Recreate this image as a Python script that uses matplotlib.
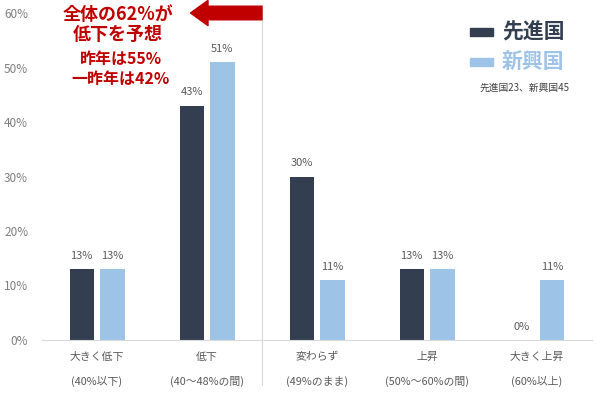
import matplotlib
matplotlib.use("Agg")
import matplotlib.pyplot as plt
import numpy as np

plt.rcParams['font.family'] = ['Noto Sans CJK JP', 'DejaVu Sans']

categories = ["大きく低下\n(40%以下)", "低下\n(40〜48%の間)", "変わらず\n(49%のまま)",
              "上昇\n(50%〜60%の間)", "大きく上昇\n(60%以上)"]
advanced = [13, 43, 30, 13, 0]
emerging = [13, 51, 11, 13, 11]
series_names = ["先進国", "新興国"]
yticks = [0, 10, 20, 30, 40, 50, 60]

c_dark = "#333F50"
c_light = "#9DC3E6"
c_red = "#C00000"
c_gray = "#595959"

fig = plt.figure(figsize=(6, 3.98), dpi=100)
ax = fig.add_axes([42/600, 1-340/398, 550/600, 327/398])
x = np.arange(len(categories))
w = 0.22
off = 0.14
b1 = ax.bar(x - off, advanced, w, color=c_dark)
b2 = ax.bar(x + off, emerging, w, color=c_light)
for bars, vals in ((b1, advanced), (b2, emerging)):
    for b, v in zip(bars, vals):
        ax.text(b.get_x() + b.get_width()/2, v + 1.5, f"{v}%", ha='center', va='bottom',
                fontsize=8, color=c_gray)

ax.set_xlim(-0.5, len(categories) - 0.5)
ax.set_ylim(0, 60)
ax.set_yticks(yticks)
ax.set_yticklabels([f"{t}%" for t in yticks], fontsize=8.5, color='#7F7F7F')
ax.tick_params(axis='y', length=0, pad=10)
ax.tick_params(axis='x', length=0)
ax.set_xticks([])
for s in ['top', 'right', 'left']:
    ax.spines[s].set_visible(False)
ax.spines['bottom'].set_color('#D9D9D9')
ax.spines['bottom'].set_linewidth(0.8)

# category labels (two lines)
for i, c in enumerate(categories):
    l1, l2 = c.split("\n")
    ax.text(i, -3.2, l1, ha='center', va='center', fontsize=7.8, color=c_gray)
    ax.text(i, -7.6, l2, ha='center', va='center', fontsize=7.8, color=c_gray)

# vertical separator
ax.plot([1.5, 1.5], [-0.138, 1.024], color='#D9D9D9', lw=0.8,
        transform=ax.get_xaxis_transform(), clip_on=False)

# red arrow
ax.annotate('', xy=(0.85, 60), xytext=(1.5, 60), xycoords='data',
            arrowprops=dict(arrowstyle='simple,head_length=0.9,head_width=1.3,tail_width=0.7',
                            color=c_red, shrinkA=0, shrinkB=0, mutation_scale=14),
            annotation_clip=False)

fig.text(118/600, 1-14/398, "全体の62%が", ha='center', va='center', fontsize=13,
         fontweight='bold', color=c_red)
fig.text(118/600, 1-35/398, "低下を予想", ha='center', va='center', fontsize=13,
         fontweight='bold', color=c_red)
fig.text(121/600, 1-59/398, "昨年は55%", ha='center', va='center', fontsize=11.5,
         fontweight='bold', color=c_red)
fig.text(121/600, 1-79/398, "一昨年は42%", ha='center', va='center', fontsize=11.5,
         fontweight='bold', color=c_red)

# legend
for i, (name, col) in enumerate(zip(series_names, [c_dark, c_light])):
    yc = 1 - (32 + i*30)/398
    fig.patches.append(plt.Rectangle((470/600, yc - 4/398), 23/600, 8/398,
                                     transform=fig.transFigure, color=col))
    fig.text(502/600, yc, name, ha='left', va='center', fontsize=15, fontweight='bold',
             color=c_dark if i == 0 else c_light)
fig.text(525/600, 1-88/398, "先進国23、新興国45", ha='center', va='center', fontsize=7,
         color='#404040')

fig.savefig("out.png", dpi=100)
